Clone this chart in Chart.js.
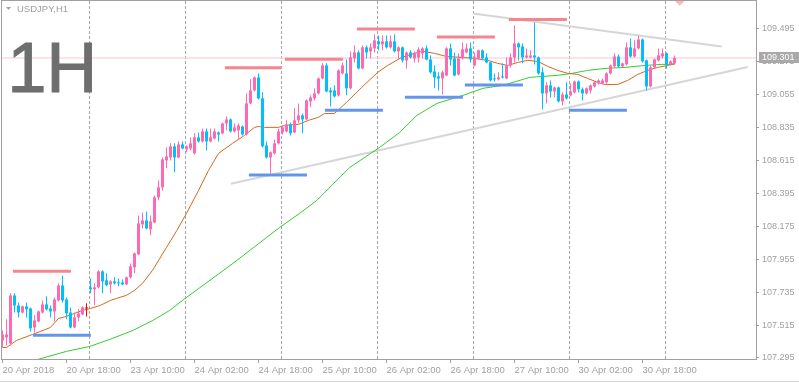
<!DOCTYPE html>
<html>
<head>
<meta charset="utf-8">
<title>USDJPY,H1</title>
<script src="https://cdn.jsdelivr.net/npm/chart.js@4.4.0/dist/chart.umd.min.js"></script>
<style>
  html, body { margin: 0; padding: 0; background: #fff; }
  canvas { display: block; }
</style>
</head>
<body>
<canvas id="chart" width="799" height="384"></canvas>
<script>
// USDJPY H1, one value per hourly bar (bar 0 = 20 Apr 02:00)
const opens = [
  107.412,107.432,107.392,107.713,107.646,107.599,107.640,107.626,107.499,107.539,
  107.599,107.653,107.626,107.606,107.680,107.780,107.686,107.599,107.499,107.566,
  107.586,107.626,107.767,107.754,107.767,107.874,107.814,107.787,107.807,107.800,
  107.800,107.787,107.834,107.901,107.988,108.188,108.215,108.155,108.201,108.369,
  108.436,108.616,108.636,108.710,108.636,108.723,108.690,108.696,108.663,108.770,
  108.743,108.810,108.743,108.763,108.803,108.797,108.863,108.890,108.810,108.817,
  108.843,108.790,108.997,109.084,109.171,109.031,108.716,108.636,108.663,108.730,
  108.803,108.810,108.857,108.803,108.884,108.917,108.890,109.011,109.031,109.064,
  109.164,109.251,109.084,109.084,109.051,109.198,109.198,109.098,109.298,109.338,
  109.231,109.372,109.345,109.365,109.412,109.392,109.412,109.372,109.412,109.345,
  109.372,109.285,109.338,109.298,109.305,109.332,109.365,109.291,109.211,109.178,
  109.164,109.184,109.365,109.298,109.191,109.298,109.338,109.365,109.251,109.298,
  109.352,109.305,109.271,109.164,109.158,109.178,109.164,109.251,109.305,109.398,
  109.378,109.305,109.305,109.318,109.305,109.205,109.064,109.118,109.077,109.104,
  109.011,109.057,109.051,109.071,109.144,109.091,109.064,109.084,109.111,109.131,
  109.131,109.138,109.198,109.245,109.311,109.245,109.258,109.372,109.311,109.365,
  109.425,109.285,109.111,109.238,109.285,109.311,109.332,109.258,109.265
];
const highs = [
  107.479,107.553,107.727,107.727,107.666,107.646,107.666,107.633,107.580,107.613,
  107.680,107.707,107.646,107.700,107.794,107.847,107.700,107.633,107.599,107.620,
  107.640,107.660,107.827,107.794,107.881,107.881,107.861,107.814,107.834,107.827,
  107.820,107.840,107.927,108.001,108.248,108.268,108.275,108.248,108.382,108.482,
  108.636,108.703,108.730,108.730,108.743,108.743,108.716,108.770,108.797,108.803,
  108.830,108.830,108.830,108.830,108.810,108.870,108.910,108.897,108.863,108.863,
  108.850,109.064,109.158,109.178,109.198,109.071,108.743,108.676,108.756,108.830,
  108.850,108.884,108.870,108.964,108.997,108.930,109.024,109.051,109.098,109.171,
  109.265,109.265,109.104,109.118,109.225,109.271,109.291,109.345,109.385,109.352,
  109.385,109.385,109.398,109.459,109.452,109.452,109.452,109.452,109.459,109.378,
  109.378,109.345,109.352,109.345,109.372,109.372,109.385,109.318,109.251,109.205,
  109.218,109.372,109.398,109.338,109.332,109.405,109.398,109.405,109.338,109.358,
  109.358,109.332,109.278,109.198,109.205,109.265,109.305,109.332,109.519,109.405,
  109.398,109.365,109.352,109.539,109.311,109.238,109.138,109.151,109.111,109.111,
  109.071,109.138,109.131,109.151,109.151,109.104,109.104,109.124,109.144,109.158,
  109.164,109.205,109.258,109.332,109.325,109.271,109.405,109.432,109.419,109.452,
  109.432,109.291,109.251,109.298,109.365,109.365,109.338,109.285,109.318
];
const lows = [
  107.365,107.379,107.379,107.599,107.566,107.593,107.566,107.472,107.466,107.533,
  107.593,107.613,107.566,107.539,107.673,107.666,107.553,107.493,107.493,107.539,
  107.580,107.573,107.727,107.647,107.760,107.727,107.774,107.727,107.787,107.774,
  107.781,107.781,107.827,107.861,107.981,108.161,108.155,108.115,108.195,108.349,
  108.415,108.563,108.616,108.536,108.630,108.690,108.670,108.683,108.656,108.736,
  108.736,108.683,108.736,108.756,108.743,108.790,108.817,108.803,108.803,108.763,
  108.783,108.783,108.991,109.077,109.024,108.703,108.630,108.529,108.656,108.723,
  108.790,108.803,108.783,108.797,108.864,108.797,108.884,108.971,109.017,109.057,
  109.158,109.071,108.977,109.037,109.044,109.191,109.051,109.091,109.271,109.225,
  109.225,109.298,109.298,109.338,109.352,109.352,109.365,109.365,109.338,109.298,
  109.271,109.231,109.298,109.271,109.271,109.298,109.285,109.198,109.098,109.084,
  109.057,109.178,109.251,109.178,109.184,109.291,109.332,109.271,109.245,109.291,
  109.285,109.265,109.144,109.144,109.151,109.164,109.158,109.238,109.271,109.285,
  109.265,109.298,109.298,109.258,109.191,108.957,108.997,109.037,109.037,109.004,
  108.984,109.024,109.044,109.064,109.071,109.017,109.057,109.064,109.104,109.124,
  109.124,109.131,109.191,109.238,109.238,109.238,109.251,109.305,109.305,109.358,
  109.271,109.084,109.104,109.231,109.278,109.298,109.231,109.251,109.258
];
const closes = [
  107.452,107.452,107.713,107.646,107.599,107.640,107.620,107.493,107.546,107.606,
  107.653,107.620,107.606,107.686,107.780,107.680,107.593,107.499,107.566,107.593,
  107.633,107.626,107.754,107.767,107.874,107.807,107.781,107.807,107.794,107.794,
  107.787,107.834,107.907,107.994,108.195,108.215,108.161,108.208,108.369,108.436,
  108.623,108.643,108.710,108.636,108.723,108.696,108.710,108.730,108.770,108.743,
  108.810,108.743,108.770,108.810,108.790,108.863,108.890,108.810,108.837,108.850,
  108.790,108.997,109.084,109.171,109.031,108.710,108.636,108.670,108.730,108.810,
  108.837,108.857,108.797,108.884,108.917,108.890,109.017,109.037,109.064,109.164,
  109.251,109.077,109.071,109.044,109.218,109.251,109.098,109.305,109.338,109.231,
  109.372,109.338,109.372,109.419,109.392,109.412,109.372,109.412,109.345,109.372,
  109.285,109.338,109.305,109.332,109.358,109.365,109.291,109.205,109.171,109.164,
  109.205,109.365,109.291,109.184,109.298,109.358,109.365,109.291,109.305,109.352,
  109.298,109.271,109.151,109.158,109.171,109.171,109.251,109.305,109.398,109.372,
  109.305,109.318,109.318,109.305,109.198,109.064,109.118,109.077,109.104,109.011,
  109.057,109.031,109.077,109.144,109.091,109.064,109.098,109.118,109.138,109.151,
  109.151,109.198,109.251,109.311,109.245,109.265,109.372,109.311,109.365,109.425,
  109.278,109.111,109.238,109.291,109.318,109.332,109.258,109.278,109.301
];

// moving averages (bar position, price)
const fastMaBars = [0,1,3.5,7.5,12,14,16,20,22,24.5,27,28.5,31,33,35,37.5,41,43.6,46,49,51.5,54,57.5,60.5,63,64,65.5,69,70.5,74,76.5,79,80.5,83,86,89.8,93.8,96.3,99.8,103,105,108,111,114.8,118,121.3,123.8,126.3,128.8,131.3,133.8,136.3,138.8,141.3,143.8,146.3,148.8,150.6,153.8,156.3,158.8,161.3,163.8,166.3,168];
const fastMa = [107.365,107.365,107.412,107.452,107.499,107.559,107.573,107.613,107.626,107.647,107.680,107.693,107.714,107.747,107.794,107.881,108.034,108.148,108.262,108.415,108.549,108.663,108.730,108.783,108.837,108.843,108.837,108.837,108.850,108.857,108.884,108.904,108.930,108.930,109.004,109.104,109.205,109.251,109.305,109.332,109.345,109.332,109.311,109.305,109.298,109.285,109.265,109.251,109.271,109.285,109.278,109.245,109.218,109.198,109.191,109.164,109.138,109.124,109.124,109.151,109.191,109.218,109.238,109.251,109.265];
const slowMaBars = [8,16,21.8,26.8,32.6,37.6,41.8,45,57.6,69.3,74.3,78.6,86.8,94.3,99.3,103.6,108.6,115.1,120.1,125.1,131.8,138.8,142.3,146.3,150.6,155.6,160.6,164.8,168];
const slowMa = [107.279,107.339,107.372,107.419,107.479,107.546,107.613,107.680,107.927,108.168,108.262,108.349,108.569,108.703,108.803,108.917,108.997,109.051,109.098,109.118,109.171,109.185,109.198,109.218,109.231,109.238,109.251,109.258,109.258];

// resistance / support segments
const resStart = [2.6, 55.6, 70.6, 88.6, 108.6, 126.6];
const resEnd   = [17.1, 69.8, 85.1, 103.1, 123.1, 141.1];
const resPrice = [107.874, 109.235, 109.293, 109.494, 109.441, 109.559];
const supStart = [7.6, 61.6, 80.6, 100.6, 115.6, 141.6];
const supEnd   = [22.1, 76.1, 95.1, 115.1, 130.1, 156.1];
const supPrice = [107.446, 108.519, 108.952, 109.039, 109.120, 108.952];

// triangle trend lines
const trendStartBar   = [117.6, 57.1];
const trendStartPrice = [109.599, 108.460];
const trendEndBar     = [179.8, 186.3];
const trendEndPrice   = [109.378, 109.240];

const currentPrice = 109.301;
const markerBar = [169.3];
const markerPrice = [109.690];

const xLabels = ["20 Apr 2018","20 Apr 18:00","23 Apr 10:00","24 Apr 02:00","24 Apr 18:00","25 Apr 10:00","26 Apr 02:00","26 Apr 18:00","27 Apr 10:00","30 Apr 02:00","30 Apr 18:00"];
const xLabelBars = [0,16,32,48,64,80,96,112,128,144,160];
const gridBars = [21.8,45.8,69.8,93.8,117.8,141.8,165.8];
const yTicks = [107.295,107.515,107.735,107.955,108.175,108.395,108.615,108.835,109.055,109.275,109.495];

const xMin = -0.125, xMax = 188.375;
const yMin = 107.288, yMax = 109.682;

Chart.defaults.font.family = "'Liberation Sans', Arial, sans-serif";

const bars = opens.map((_, i) => i);
const candleColor = i => closes[i] > opens[i] ? "#FF69B4" : (closes[i] < opens[i] ? "#00BFFF" : "#FF0000");
const colors = bars.map(candleColor);

const datasets = [];
datasets.push({
  type: "line", xAxisID: "x", order: 9,
  data: [{x: xMin, y: currentPrice}, {x: xMax, y: currentPrice}],
  borderColor: "#FFC4CC", borderWidth: 1, pointRadius: 0
});
trendStartBar.forEach((b, k) => datasets.push({
  type: "line", xAxisID: "x", order: 8,
  data: [{x: b, y: trendStartPrice[k]}, {x: trendEndBar[k], y: trendEndPrice[k]}],
  borderColor: "#D6D6D6", borderWidth: 2, pointRadius: 0
}));
datasets.push({
  type: "line", xAxisID: "x", order: 7,
  data: slowMaBars.map((b, k) => ({x: b, y: slowMa[k]})),
  borderColor: "#32CD32", borderWidth: 1, pointRadius: 0
});
datasets.push({
  type: "line", xAxisID: "x", order: 6,
  data: fastMaBars.map((b, k) => ({x: b, y: fastMa[k]})),
  borderColor: "#D2691E", borderWidth: 1, pointRadius: 0
});
datasets.push({
  type: "bar", xAxisID: "x", order: 5, grouped: false,
  data: bars.map(i => ({x: i, y: [lows[i], highs[i]]})),
  backgroundColor: colors, barThickness: 1, inflateAmount: 0
});
datasets.push({
  type: "bar", xAxisID: "x", order: 4, grouped: false,
  data: bars.map(i => ({x: i, y: [opens[i], closes[i]]})),
  backgroundColor: colors, barThickness: 3, minBarLength: 1, inflateAmount: 0
});
resStart.forEach((b, k) => datasets.push({
  type: "line", xAxisID: "x", order: 3,
  data: [{x: b, y: resPrice[k]}, {x: resEnd[k], y: resPrice[k]}],
  borderColor: "#F4868F", borderWidth: 3, pointRadius: 0, borderCapStyle: "butt"
}));
supStart.forEach((b, k) => datasets.push({
  type: "line", xAxisID: "x", order: 3,
  data: [{x: b, y: supPrice[k]}, {x: supEnd[k], y: supPrice[k]}],
  borderColor: "#6495ED", borderWidth: 3, pointRadius: 0, borderCapStyle: "butt"
}));
datasets.push({
  type: "scatter", xAxisID: "x", order: 2,
  data: markerBar.map((b, k) => ({x: b, y: markerPrice[k]})),
  pointStyle: "rectRot", pointRadius: 6, backgroundColor: "#FFB6C1", borderWidth: 0
});

const decor = {
  id: "decor",
  afterDraw(chart) {
    const {ctx, chartArea: a} = chart;
    ctx.save();
    // frame
    ctx.strokeStyle = "#A0A0A0";
    ctx.lineWidth = 1;
    ctx.strokeRect(a.left - 0.5, a.top - 0.5, a.right - a.left + 1, a.bottom - a.top + 1);
    // window edge
    ctx.fillStyle = "#D4D4D4";
    ctx.fillRect(0, 381, 799, 1);
    // symbol title
    ctx.fillStyle = "#A0A0A0";
    ctx.beginPath();
    ctx.moveTo(6, 7); ctx.lineTo(11, 7); ctx.lineTo(8.5, 10); ctx.closePath(); ctx.fill();
    ctx.font = "9.5px 'Liberation Sans'";
    ctx.textBaseline = "alphabetic";
    ctx.fillText("USDJPY,H1", 17, 12);
    // big timeframe label
    ctx.fillStyle = "#6E6E6E";
    ctx.strokeStyle = "#6E6E6E";
    ctx.lineWidth = 1.2;
    ctx.font = "70px 'Liberation Sans'";
    ctx.fillText("1H", 7.5, 92);
    ctx.strokeText("1H", 7.5, 92);
    // current price box
    const y = chart.scales.y.getPixelForValue(currentPrice);
    ctx.fillStyle = "#A9A9A9";
    ctx.fillRect(a.right + 3, Math.round(y) - 6, 40, 11);
    ctx.fillStyle = "#FFFFFF";
    ctx.font = "9px 'Liberation Sans'";
    ctx.textBaseline = "middle";
    ctx.fillText(currentPrice.toFixed(3), a.right + 6, y);
    ctx.restore();
  }
};

new Chart(document.getElementById("chart"), {
  type: "bar",
  data: { datasets },
  options: {
    responsive: false,
    devicePixelRatio: 1,
    animation: false,
    events: [],
    layout: { autoPadding: false, padding: { left: 2, top: 1, right: 0, bottom: 0 } },
    plugins: { legend: { display: false }, tooltip: { enabled: false } },
    scales: {
      x: {
        type: "linear", position: "bottom", min: xMin, max: xMax, offset: false, bounds: "data",
        afterBuildTicks: s => { s.ticks = xLabelBars.map(v => ({value: v})); },
        afterFit: s => { s.height = 25; s.paddingLeft = 0; s.paddingRight = 0; },
        grid: { offset: false, drawOnChartArea: false, drawTicks: true, tickLength: 4, color: "#A0A0A0" },
        border: { display: false },
        ticks: {
          autoSkip: false, maxRotation: 0, minRotation: 0, align: "start", padding: 2,
          color: "#A0A0A0", font: { size: 9.5 },
          callback: (v, i) => xLabels[i]
        }
      },
      xg: {
        type: "linear", position: "top", min: xMin, max: xMax, offset: false, bounds: "data",
        afterBuildTicks: s => { s.ticks = gridBars.map(v => ({value: v})); },
        afterFit: s => { s.height = 0; s.paddingLeft = 0; s.paddingRight = 0; },
        grid: { offset: false, drawTicks: false, color: "#A8A8A8" },
        border: { display: false, dash: [3, 2] },
        ticks: { display: false }
      },
      y: {
        type: "linear", position: "right", min: yMin, max: yMax, beginAtZero: false, bounds: "data",
        afterBuildTicks: s => { s.ticks = yTicks.map(v => ({value: v})); },
        afterFit: s => { s.width = 43; s.paddingTop = 0; s.paddingBottom = 0; },
        grid: { drawOnChartArea: false, tickLength: 3, color: "#A0A0A0" },
        border: { display: false },
        ticks: {
          autoSkip: false, padding: 3, color: "#A0A0A0",
          font: { size: 9, lineHeight: "1px" },
          callback: v => v.toFixed(3)
        }
      }
    }
  },
  plugins: [decor]
});
</script>
</body>
</html>
